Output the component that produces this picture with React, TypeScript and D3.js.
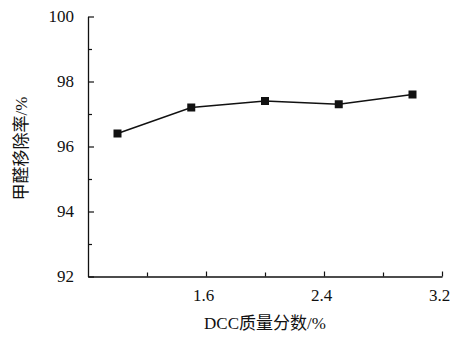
import React, { useRef, useEffect } from 'react';
import * as d3 from 'd3';

const dccFraction = [1.0, 1.5, 2.0, 2.5, 3.0];
const removalRate = [96.4, 97.2, 97.4, 97.3, 97.6];
const xMajorTicks = [1.6, 2.4, 3.2];
const xMinorTicks = [1.2, 2.0, 2.8];
const yMajorTicks = [92, 94, 96, 98, 100];
const yMinorTicks = [93, 95, 97, 99];
const xTitle = 'DCC质量分数/%';
const yTitle = '甲醛移除率/%';

export default function App() {
  const ref = useRef<SVGSVGElement>(null);

  useEffect(() => {
    const svg = d3.select(ref.current);
    svg.selectAll('*').remove();
    const width = 451, height = 338;
    const m = { left: 88, right: 9, top: 16.5, bottom: 61.5 };
    const serif = 'Liberation Serif';
    const cjk = 'Noto Sans CJK SC';

    const x = d3.scaleLinear().domain([0.8, 3.2]).range([m.left, width - m.right]);
    const y = d3.scaleLinear().domain([92, 100]).range([height - m.bottom, m.top]);

    // minor ticks first, then major axes on top
    svg.append('g')
      .attr('transform', `translate(0,${height - m.bottom})`)
      .call(d3.axisBottom(x).tickValues(xMinorTicks).tickSize(-4).tickFormat(() => ''))
      .call(g => g.select('.domain').remove())
      .selectAll('line').attr('stroke', '#111').attr('stroke-width', 1.2);

    svg.append('g')
      .attr('transform', `translate(${m.left},0)`)
      .call(d3.axisLeft(y).tickValues(yMinorTicks).tickSize(-4).tickFormat(() => ''))
      .call(g => g.select('.domain').remove())
      .selectAll('line').attr('stroke', '#111').attr('stroke-width', 1.2);

    const xg = svg.append('g')
      .attr('transform', `translate(0,${height - m.bottom})`)
      .call(d3.axisBottom(x).tickValues(xMajorTicks).tickSizeInner(-5).tickSizeOuter(0).tickPadding(12).tickFormat(d3.format('.1f')))
      .attr('font-family', serif)
      .attr('font-size', 17);
    xg.select('.domain').attr('stroke', '#111').attr('stroke-width', 1.3);
    xg.selectAll('line').attr('stroke', '#111').attr('stroke-width', 1.2);
    xg.selectAll('text').attr('fill', '#111').attr('dx', -3);

    const yg = svg.append('g')
      .attr('transform', `translate(${m.left},0)`)
      .call(d3.axisLeft(y).tickValues(yMajorTicks).tickSizeInner(-6).tickSizeOuter(0).tickPadding(14).tickFormat(d3.format('d')))
      .attr('font-family', serif)
      .attr('font-size', 17);
    yg.select('.domain').attr('stroke', '#111').attr('stroke-width', 1.3);
    yg.selectAll('line').attr('stroke', '#111').attr('stroke-width', 1.2);
    yg.selectAll('text').attr('fill', '#111');

    const pts = dccFraction.map((d, i) => [d, removalRate[i]] as [number, number]);
    const line = d3.line<[number, number]>().x(d => x(d[0])).y(d => y(d[1]));
    svg.append('path')
      .attr('d', line(pts))
      .attr('fill', 'none')
      .attr('stroke', '#111')
      .attr('stroke-width', 1.4);

    svg.selectAll('rect.mk')
      .data(pts)
      .join('rect')
      .attr('class', 'mk')
      .attr('x', d => x(d[0]) - 4)
      .attr('y', d => y(d[1]) - 4)
      .attr('width', 8)
      .attr('height', 8)
      .attr('fill', '#111');

    svg.append('text')
      .attr('x', (m.left + width - m.right) / 2)
      .attr('y', 329)
      .attr('text-anchor', 'middle')
      .attr('font-size', 17)
      .attr('fill', '#111')
      .call(t => {
        t.append('tspan').attr('font-family', serif).text(xTitle.slice(0, 3));
        t.append('tspan').attr('font-family', cjk).text(xTitle.slice(3, 7));
        t.append('tspan').attr('font-family', serif).text(xTitle.slice(7));
      });

    svg.append('text')
      .attr('transform', `translate(27,${(m.top + height - m.bottom) / 2 + 2}) rotate(-90)`)
      .attr('text-anchor', 'middle')
      .attr('font-size', 17)
      .attr('fill', '#111')
      .call(t => {
        t.append('tspan').attr('font-family', cjk).text(yTitle.slice(0, 5));
        t.append('tspan').attr('font-family', serif).text(yTitle.slice(5));
      });
  }, []);

  return (
    <svg ref={ref} width={451} height={338}
      style={{ position: 'absolute', left: 0, top: 0, background: '#fff' }}
      role="img" aria-label="甲醛移除率 vs DCC质量分数" />
  );
}
